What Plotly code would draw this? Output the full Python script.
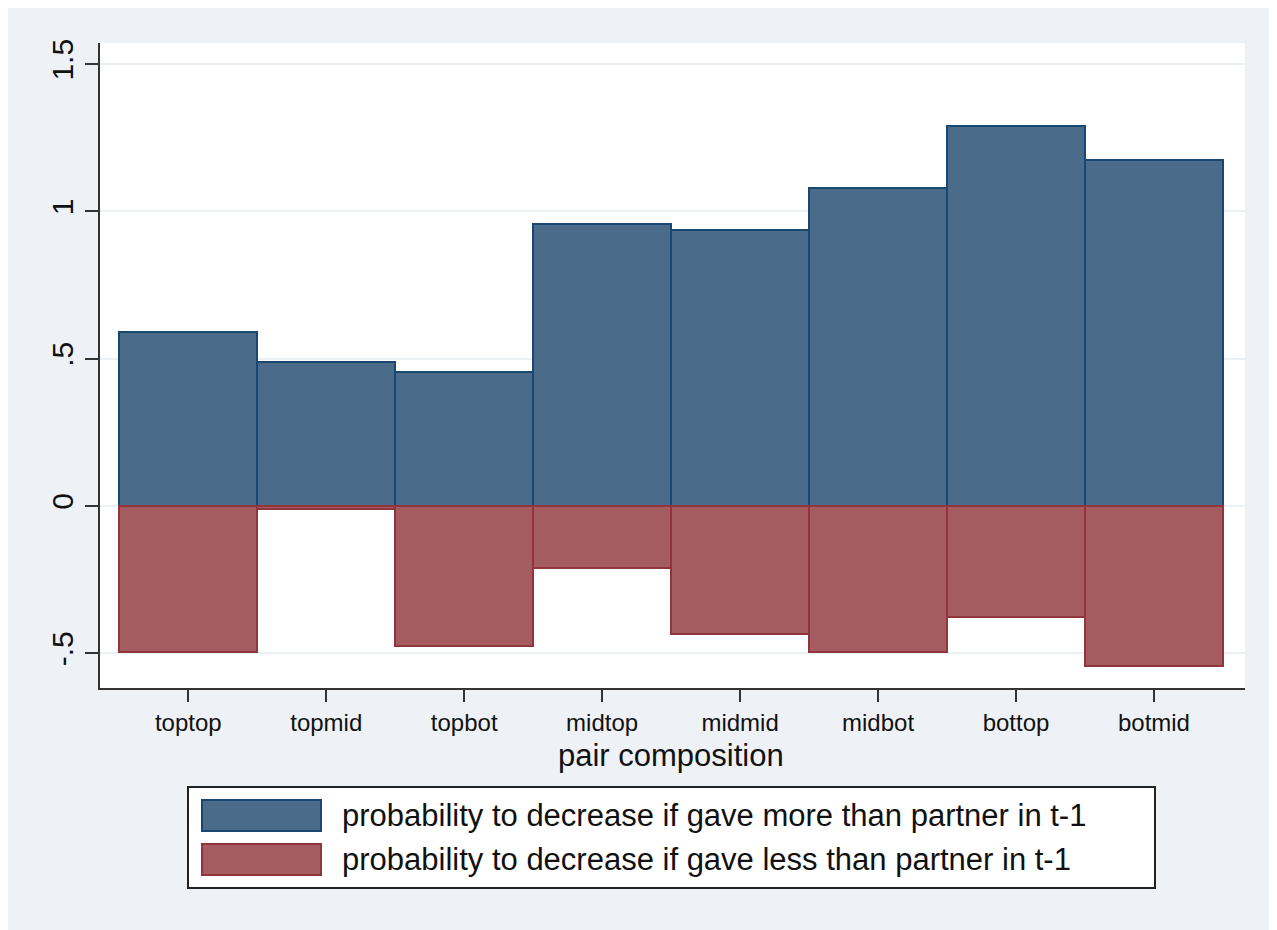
import plotly.graph_objects as go

categories = ["toptop", "topmid", "topbot", "midtop", "midmid", "midbot", "bottop", "botmid"]
gave_more = [0.591, 0.489, 0.455, 0.958, 0.937, 1.080, 1.290, 1.175]
gave_less = [-0.496, -0.010, -0.475, -0.210, -0.435, -0.496, -0.377, -0.543]
series_names = [
    "probability to decrease if gave more than partner in t-1",
    "probability to decrease if gave less than partner in t-1",
]
y_tickvals = [-0.5, 0, 0.5, 1, 1.5]
y_ticktext = ["-.5", "0", ".5", "1", "1.5"]

BLUE_FILL, BLUE_LINE = "#4a6b8a", "#1a476f"
RED_FILL, RED_LINE = "#a55c61", "#90353b"
FONT = "Liberation Sans, Arial, sans-serif"
TXT = "#111111"

fig = go.Figure()
fig.add_trace(go.Bar(x=categories, y=gave_more, name=series_names[0], width=1,
                     marker=dict(color=BLUE_FILL, line=dict(color=BLUE_LINE, width=2))))
fig.add_trace(go.Bar(x=categories, y=gave_less, name=series_names[1], width=1,
                     marker=dict(color=RED_FILL, line=dict(color=RED_LINE, width=2))))

OFF = 8  # page body margin
W, H = 1277 - OFF, 930 - OFF
L, T = 100 - OFF, 43 - OFF
R = W - (1245 - OFF)
B = H - (688 - OFF)
pw, ph = W - L - R, H - T - B

def px(x):
    return (x - OFF - L) / pw

def py(y):
    return (H - B - (y - OFF)) / ph

shapes = []
annotations = []
# legend box
shapes.append(dict(type="rect", xref="paper", yref="paper", x0=px(188), x1=px(1155), y0=py(888), y1=py(787),
                   fillcolor="white", line=dict(color="#222222", width=2)))
swatches = [(BLUE_FILL, BLUE_LINE, 800, 831), (RED_FILL, RED_LINE, 844, 875)]
for (fc, lc, y0, y1), name in zip(swatches, series_names):
    shapes.append(dict(type="rect", xref="paper", yref="paper", x0=px(202), x1=px(321), y0=py(y1), y1=py(y0),
                       fillcolor=fc, line=dict(color=lc, width=2)))
    annotations.append(dict(xref="paper", yref="paper", x=px(340), y=py((y0 + y1) / 2), text=name,
                            showarrow=False, xanchor="left", yanchor="middle",
                            font=dict(family=FONT, size=31, color=TXT)))
# x axis title
annotations.append(dict(xref="paper", yref="paper", x=px(671), y=py(755), text="pair composition",
                        showarrow=False, xanchor="center", yanchor="middle",
                        font=dict(family=FONT, size=31, color=TXT)))

fig.update_layout(
    width=W, height=H,
    margin=dict(l=L, r=R, t=T, b=B),
    paper_bgcolor="#eef1f6", plot_bgcolor="white",
    barmode="relative", bargap=0,
    showlegend=False,
    font=dict(family=FONT, color=TXT),
    shapes=shapes, annotations=annotations,
    xaxis=dict(
        range=[-0.64, 7.66], showgrid=False, showline=True, linecolor="#333333", linewidth=2,
        ticks="outside", ticklen=12, tickwidth=2, tickcolor="#333333",
        tickfont=dict(family=FONT, size=24, color=TXT),
        zeroline=False,
    ),
    yaxis=dict(
        range=[-0.618, 1.572], tickvals=y_tickvals, ticktext=y_ticktext, tickangle=-90,
        showgrid=True, gridcolor="#eaf0f4", gridwidth=2,
        showline=True, linecolor="#333333", linewidth=2,
        ticks="outside", ticklen=13, tickwidth=2, tickcolor="#333333",
        tickfont=dict(family=FONT, size=30, color=TXT),
        zeroline=False,
    ),
)

fig.write_html("out.html")
